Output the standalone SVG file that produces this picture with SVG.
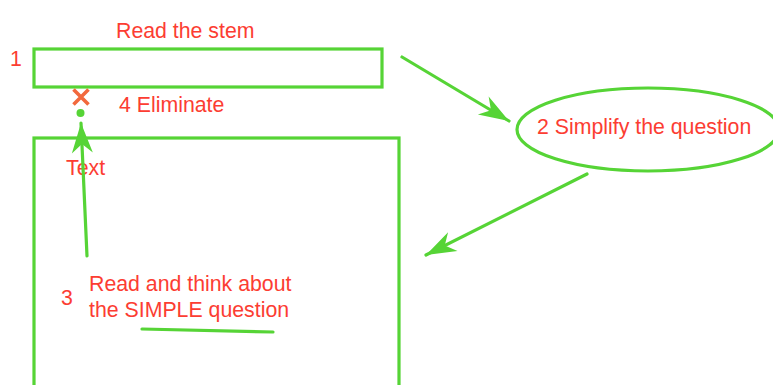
<svg xmlns="http://www.w3.org/2000/svg" width="773" height="385" viewBox="0 0 773 385">
<style>
.shape{fill:none;stroke:#56d436;stroke-width:3.2}
.lbl{font-family:"Liberation Sans",Arial,sans-serif;font-size:21.3px;fill:#fc3d32}
.conn{fill:none;stroke:#56d436;stroke-width:3.2;stroke-linecap:round}
</style>
<defs>
<marker id="ah" markerUnits="userSpaceOnUse" viewBox="-32 -12 34 24" refX="0" refY="0" markerWidth="34" markerHeight="24" orient="auto">
<path d="M0,0 L-30,-10.5 L-21,0 L-30,10.5 Z" fill="#56d436"/>
</marker>
</defs>
<rect width="773" height="385" fill="#ffffff"/>
<g id="n1">
<rect class="shape" x="34" y="49" width="348" height="38"/>
<text class="lbl" x="10" y="66">1</text>
<text class="lbl" x="116" y="38">Read the stem</text>
</g>
<g id="n2">
<ellipse class="shape" cx="648" cy="129.5" rx="131" ry="41.5"/>
<text class="lbl" x="537" y="134">2 Simplify the question</text>
</g>
<g id="n3">
<rect class="shape" x="34" y="138" width="365" height="260"/>
<text class="lbl" x="61" y="305">3</text>
<text class="lbl" x="89" y="291">Read and think about</text>
<text class="lbl" x="89" y="317">the SIMPLE question</text>
<line class="conn" x1="142" y1="329" x2="273" y2="332"/>
</g>
<g id="n4">
<path d="M73.5,89.5 L88.5,104.5 M88.5,89.5 L73.5,104.5" stroke="#f2693d" stroke-width="3.6" fill="none"/>
<circle cx="80.5" cy="113" r="4" fill="#56d436"/>
<text class="lbl" x="119" y="112">4 Eliminate</text>
<text class="lbl" x="66" y="175">Text</text>
</g>
<g id="connectors">
<line class="conn" x1="402" y1="57" x2="509" y2="121" marker-end="url(#ah)"/>
<line class="conn" x1="587" y1="174" x2="426" y2="255" marker-end="url(#ah)"/>
<line class="conn" x1="87" y1="256" x2="81" y2="123" marker-end="url(#ah)"/>
</g>
</svg>
